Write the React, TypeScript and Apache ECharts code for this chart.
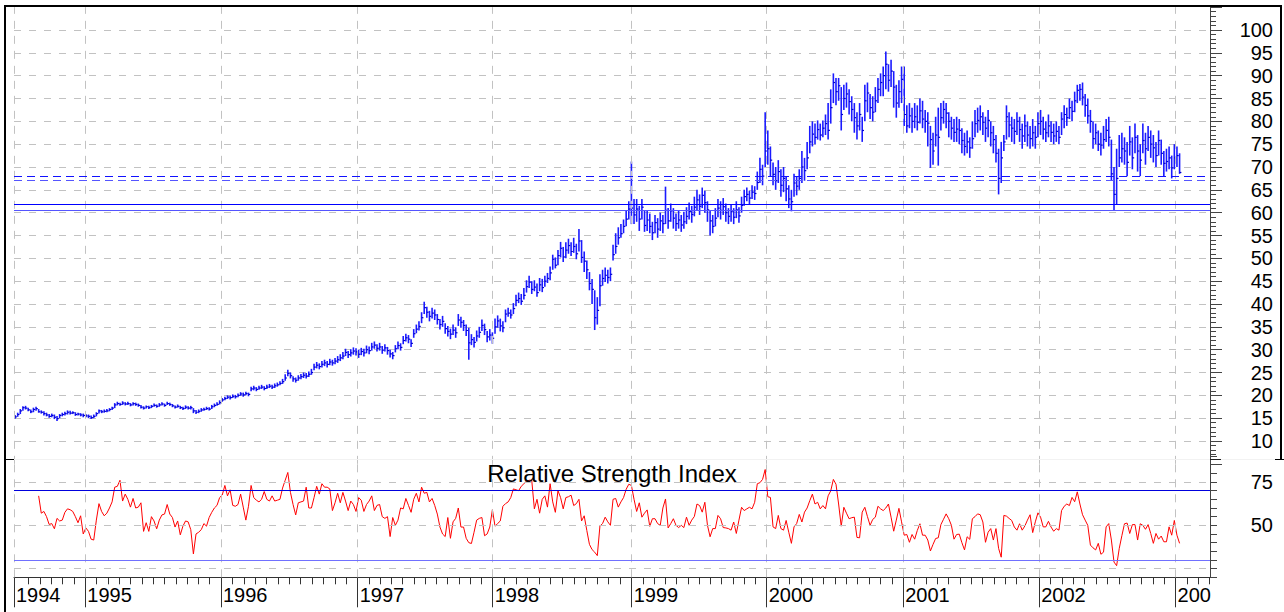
import React, { useEffect, useRef } from 'react';
import * as echarts from 'echarts';

// ---------- DATA ----------
// x positions of the year boundaries, in weeks from the first bar (bar 0 = first week shown)
const yearLabels = ['1994', '1995', '1996', '1997', '1998', '1999', '2000', '2001', '2002', '2003'];
const yearTickWeeks = [-0.4, 26.78, 78.52, 130.63, 182.1, 235.1, 286.56, 338.64, 390.49, 442.49];

// weekly bars: [high, low, close]
const bars1994 = [[15.7,14.9,15.3],[16.2,15.3,15.8],[17.0,15.9,16.6],[17.6,16.6,17.3],[17.7,16.9,17.2],[17.3,16.5,16.8],[16.9,16.1,16.4],[17.3,16.3,16.9],[17.5,16.6,17.1],[17.0,16.2,16.4],[16.7,16.0,16.3],[16.5,15.6,16.0],[16.2,15.4,15.7],[15.9,15.1,15.4],[16.0,15.2,15.6],[15.8,14.8,15.2],[15.5,14.4,14.9],[15.9,15.0,15.6],[16.2,15.4,15.8],[16.4,15.6,16.0],[16.7,15.8,16.3],[16.6,15.8,16.1],[16.5,15.9,16.2],[16.3,15.5,15.8],[16.2,15.6,15.9],[16.1,15.4,15.7],[16.0,15.2,15.6]];
const bars1995 = [[15.9,15.2,15.5],[15.8,15.0,15.4],[15.6,14.8,15.1],[15.8,15.0,15.4],[16.3,15.4,16.0],[16.9,16.0,16.6],[16.8,16.1,16.4],[16.9,16.2,16.5],[17.0,16.3,16.6],[17.2,16.5,16.9],[17.5,16.8,17.2],[18.3,17.2,17.9],[18.6,17.8,18.2],[18.4,17.7,18.0],[18.7,17.9,18.3],[18.5,17.8,18.1],[18.6,17.9,18.2],[18.3,17.6,17.9],[18.5,17.8,18.2],[18.4,17.7,18.0],[18.2,17.5,17.8],[17.9,17.1,17.4],[17.6,16.9,17.2],[17.8,17.1,17.5],[17.7,17.0,17.3],[17.9,17.2,17.6],[18.2,17.5,17.8],[18.0,17.3,17.6],[18.3,17.5,17.9],[18.5,17.8,18.1],[18.2,17.5,17.8],[18.6,17.9,18.2],[18.4,17.7,18.0],[18.1,17.4,17.7],[17.8,17.1,17.4],[18.0,17.3,17.6],[17.7,17.0,17.3],[17.5,16.8,17.1],[17.8,17.0,17.4],[17.6,16.9,17.2],[17.7,16.9,17.3],[17.2,16.1,16.6],[16.8,15.9,16.3],[16.9,16.1,16.5],[17.2,16.4,16.8],[17.3,16.6,16.9],[17.5,16.8,17.1],[17.4,16.7,17.0],[17.9,17.0,17.5],[18.2,17.4,17.8],[18.5,17.7,18.0],[18.9,18.0,18.4]];
const bars1996 = [[19.4,18.6,19.0],[19.7,18.9,19.3],[20.0,19.2,19.6],[19.9,19.1,19.5],[20.2,19.4,19.8],[20.1,19.3,19.7],[20.4,19.6,20.0],[20.7,19.9,20.3],[20.6,19.7,20.1],[20.8,20.0,20.4],[20.6,19.8,20.2],[21.9,20.9,21.4],[22.1,21.1,21.6],[21.8,20.9,21.3],[22.1,21.2,21.6],[22.3,21.4,21.8],[22.0,21.1,21.5],[22.3,21.4,21.8],[22.5,21.6,22.0],[22.3,21.4,21.8],[22.6,21.6,22.1],[22.8,21.9,22.3],[23.1,22.2,22.6],[23.6,22.5,23.0],[24.6,23.2,23.8],[25.6,24.2,24.8],[25.0,23.7,24.3],[24.2,23.0,23.6],[23.9,22.8,23.3],[24.4,23.2,23.8],[24.7,23.5,24.1],[25.0,23.8,24.4],[24.9,23.7,24.2],[25.2,24.0,24.6],[25.8,24.5,25.0],[26.9,25.5,26.2],[27.3,25.9,26.6],[27.0,25.7,26.3],[27.5,26.1,26.8],[27.8,26.4,27.1],[27.5,26.1,26.8],[28.0,26.6,27.3],[27.8,26.5,27.1],[28.2,26.8,27.5],[28.6,27.1,27.8],[29.0,27.5,28.2],[29.5,27.9,28.6],[30.2,28.6,29.4],[29.7,28.2,28.9],[30.1,28.5,29.3],[30.5,28.9,29.7],[30.3,28.7,29.5]];
const bars1997 = [[30.0,28.2,29.0],[30.4,28.8,29.6],[30.2,28.5,29.3],[30.9,29.2,30.0],[30.7,29.0,29.8],[31.5,29.8,30.6],[31.8,30.2,31.0],[31.2,29.6,30.3],[31.5,29.8,30.6],[30.8,29.1,29.9],[31.2,29.6,30.4],[30.6,28.9,29.8],[30.0,28.3,29.1],[29.5,27.9,28.7],[31.0,29.4,30.2],[31.8,30.1,30.9],[31.4,29.8,30.5],[33.0,31.2,32.0],[33.5,31.8,32.6],[33.2,31.4,32.3],[32.3,30.6,31.4],[34.5,32.6,33.5],[35.5,33.6,34.5],[36.2,34.2,35.1],[38.2,35.8,37.0],[40.5,37.8,39.2],[39.4,37.0,38.2],[38.5,36.2,37.3],[39.2,36.8,38.0],[38.8,36.5,37.6],[37.8,35.5,36.6],[36.7,34.4,35.5],[37.4,35.0,36.2],[35.8,33.5,34.6],[35.2,32.9,34.0],[34.6,32.3,33.4],[35.5,33.2,34.3],[34.9,32.6,33.7],[37.8,35.2,36.5],[37.2,34.8,36.0],[36.5,34.1,35.3],[35.5,33.0,34.2],[34.8,27.8,31.5],[33.4,31.0,32.2],[32.8,30.5,31.6],[34.2,31.8,33.0],[35.0,32.6,33.8],[36.6,34.1,35.3],[35.7,33.2,34.4],[34.1,31.6,32.8],[34.5,32.0,33.2],[33.8,31.3,32.5]];
const bars1998 = [[36.8,33.5,35.0],[37.5,34.8,36.3],[36.8,34.0,35.2],[36.2,33.8,34.8],[38.8,36.0,37.8],[39.2,37.2,38.0],[38.8,36.8,37.6],[40.2,37.8,39.0],[42.0,39.5,40.8],[42.5,40.2,41.2],[42.2,39.8,40.6],[43.5,41.0,41.9],[45.2,42.5,43.8],[46.2,43.5,44.8],[45.0,42.2,43.2],[45.2,42.8,43.7],[44.5,41.6,42.5],[45.7,42.8,44.2],[45.5,42.6,43.6],[46.2,43.8,45.0],[46.8,44.6,45.6],[48.2,45.2,46.8],[50.8,47.5,49.8],[50.2,47.8,48.5],[51.8,48.5,50.6],[53.6,50.2,52.2],[52.5,49.2,50.3],[53.5,50.0,51.8],[54.3,51.0,52.8],[53.5,50.5,51.5],[54.5,51.2,52.6],[53.2,49.8,51.0],[56.4,51.5,53.8],[54.0,49.0,50.2],[51.5,47.0,49.4],[49.5,45.5,47.5],[47.0,43.0,44.5],[45.5,40.0,43.2],[43.0,34.3,37.0],[41.5,35.5,38.6],[46.5,39.5,44.0],[47.5,44.0,45.6],[48.0,44.8,46.3],[47.5,44.5,45.8],[48.0,45.0,46.5],[53.0,49.5,50.8],[55.5,51.0,52.6],[56.8,53.0,54.5],[57.5,54.5,55.4],[58.5,55.5,57.0],[60.5,57.0,58.6],[62.5,58.5,60.8]];
const bars1999 = [[71.2,57.5,61.0],[63.0,57.5,59.5],[63.0,58.0,60.8],[61.5,56.0,58.6],[63.0,58.5,61.2],[60.5,55.8,57.2],[60.5,56.0,58.4],[59.8,55.5,57.0],[58.0,54.0,55.6],[59.5,55.5,57.8],[58.8,54.5,56.4],[60.0,56.0,58.2],[59.5,55.5,57.6],[65.7,57.5,60.5],[61.0,56.5,58.2],[62.0,58.0,60.4],[61.0,56.5,58.8],[59.8,56.0,57.6],[60.5,56.5,58.4],[59.5,55.8,57.3],[60.2,56.5,58.0],[61.2,57.5,59.2],[62.2,58.5,60.3],[61.5,57.8,59.6],[63.5,59.2,61.2],[65.0,60.5,62.8],[64.0,59.5,61.4],[65.5,61.0,63.8],[64.8,60.0,62.2],[62.5,58.0,60.6],[60.5,55.0,58.2],[59.5,55.5,57.0],[61.0,57.0,58.8],[63.0,59.0,61.0],[62.5,58.5,60.5],[63.2,59.5,61.3],[62.0,58.0,60.0],[61.0,57.5,59.2],[61.8,58.0,60.2],[61.0,57.5,59.0],[62.5,58.8,60.6],[61.2,57.8,59.3],[63.5,60.0,61.6],[65.0,61.5,63.5],[65.5,62.5,64.0],[64.8,61.8,63.2],[66.0,63.0,64.5],[65.8,62.8,64.2],[69.0,65.0,66.6],[72.0,66.5,69.5],[70.5,66.0,68.0],[82.0,70.0,73.5]];
const bars2000 = [[78.0,70.5,74.0],[74.5,68.0,71.5],[71.0,66.0,68.4],[70.0,65.0,67.0],[71.5,66.5,69.0],[69.5,63.5,66.0],[70.0,64.5,67.5],[68.0,62.5,65.2],[66.0,61.0,63.0],[65.0,60.3,62.4],[68.5,63.5,66.5],[68.0,63.8,65.8],[69.5,65.0,67.5],[73.5,66.5,70.0],[72.0,67.0,69.2],[75.5,69.5,72.0],[79.0,73.0,75.5],[80.0,74.5,77.2],[79.5,75.0,76.5],[80.2,76.0,78.2],[79.5,75.8,77.0],[80.2,76.5,78.5],[81.5,77.0,79.5],[84.0,76.0,78.0],[87.0,79.5,83.0],[90.5,84.0,88.5],[89.5,83.5,86.5],[89.5,84.5,87.8],[87.5,78.0,81.5],[88.0,82.5,85.0],[88.5,83.0,86.0],[87.0,81.5,84.3],[85.5,80.0,82.6],[84.0,77.5,80.8],[82.0,76.0,79.0],[84.0,78.0,81.5],[81.0,75.5,78.0],[88.0,80.0,84.5],[88.5,82.0,86.2],[86.0,80.5,83.0],[85.5,80.0,82.0],[87.5,82.0,84.5],[89.5,84.0,87.0],[90.5,85.5,88.5],[92.0,85.5,90.0],[95.3,87.0,92.5],[92.5,86.5,89.0],[93.5,87.5,91.0],[91.0,83.0,87.5],[88.0,80.8,84.0],[89.0,83.0,86.5],[92.0,84.0,89.2]];
const bars2001 = [[92.0,79.0,81.5],[83.5,77.5,79.0],[84.0,78.5,81.2],[83.0,77.5,80.0],[84.0,78.5,81.0],[83.5,78.0,79.8],[85.0,79.5,82.3],[84.5,78.5,80.5],[82.5,77.5,80.0],[82.0,74.5,79.6],[79.0,69.8,76.0],[77.5,70.5,73.5],[81.0,74.5,77.0],[83.0,70.3,76.5],[84.0,78.0,80.8],[84.5,79.5,82.6],[84.0,78.5,81.8],[82.0,76.5,80.0],[81.0,76.0,78.5],[80.5,75.5,77.6],[81.0,75.5,78.3],[80.5,75.0,78.0],[78.5,73.0,75.8],[77.5,72.5,74.5],[78.0,73.0,75.5],[76.5,72.0,74.2],[80.0,74.0,76.2],[82.5,76.5,79.5],[83.0,77.5,80.2],[83.5,78.0,81.0],[82.0,77.0,79.8],[81.0,75.5,78.5],[82.5,76.5,80.2],[80.0,74.5,77.5],[79.0,73.0,76.0],[77.0,71.0,73.0],[74.0,64.0,67.5],[75.5,66.5,72.0],[77.0,73.5,75.5],[83.5,76.0,81.0],[82.0,76.5,79.2],[81.0,75.5,78.5],[80.5,75.0,77.8],[82.0,77.0,80.0],[81.0,75.5,78.2],[79.5,74.0,76.8],[81.5,75.5,79.0],[80.0,74.5,77.0],[79.0,74.0,76.2],[80.5,74.5,77.5],[79.0,74.0,76.5],[82.0,76.5,79.5]];
const bars2002 = [[82.5,77.0,80.0],[81.0,76.0,78.3],[80.0,75.5,77.5],[81.5,76.5,79.0],[80.0,75.5,77.6],[79.5,75.0,76.8],[80.0,75.5,77.8],[79.0,75.0,76.5],[82.0,77.0,80.5],[83.5,78.5,81.5],[83.0,79.0,80.8],[85.0,80.5,83.0],[84.5,80.0,82.2],[86.5,82.0,84.5],[88.0,84.0,86.8],[88.2,84.5,87.0],[88.5,83.5,85.3],[86.0,81.0,83.5],[85.0,79.5,81.2],[82.5,77.5,80.0],[80.0,74.0,76.2],[79.5,75.0,77.5],[78.0,73.5,75.0],[77.5,72.5,74.8],[79.0,74.0,76.0],[80.5,75.5,78.0],[81.0,74.5,76.5],[76.0,67.0,68.5],[70.0,60.5,64.0],[74.0,61.8,67.5],[77.0,70.0,72.0],[77.5,71.0,74.0],[76.5,70.5,73.5],[75.5,68.0,71.0],[79.0,72.5,75.5],[76.5,69.5,72.0],[79.5,73.0,76.5],[77.0,69.0,73.5],[75.0,68.0,71.5],[79.5,73.0,75.8],[77.5,70.5,74.0],[79.0,73.5,76.5],[78.0,72.0,75.0],[77.0,71.0,74.2],[75.5,70.0,72.5],[78.0,72.5,75.8],[76.0,70.5,73.0],[73.5,68.0,70.8],[74.0,69.0,71.2],[74.5,69.5,72.0],[72.5,67.5,69.8],[75.0,69.5,72.0]];
const bars2003 = [[74.5,70.0,72.5],[73.0,68.5,68.8]];

// weekly RSI values, starting at week rsiFirstWeek
const rsiFirstWeek = 9;
const rsiValues = [
  67,57,58,55,50.5,51,48,54,52.5,53,57.5,59.5,59,58,55,51.5,55.5,45,48.5,46.5,
  42,41.5,53,62.5,58,55.5,57,60,63.5,72,72.5,76,64,68,65,60.5,65.5,60,60.5,63,
  46.5,51.5,46.5,55,52.5,48,53,56,56.5,62,56.5,54.5,49,52.5,44.5,49.5,52.5,52,47.5,33.5,
  45,46,47.5,51,49.5,54.5,57.5,60,61.5,66,67.5,73,67,70.5,61.5,61,62,68,60.5,53,
  61,73,66,64.5,63.5,65,69.5,65,64,67,64,64.5,65,71.5,76,80.5,69,62,56,63,
  63.5,64,72,60,60,66,72.5,68,74,72,72,71,58.5,63,68.5,63,69,64,58.5,64,
  62,58,66,64.5,58,62,64,67,58.5,61.5,62,55,54,55,43.5,54.5,50,53,60,59.5,
  65.5,61.5,57.5,65,68.5,63.5,72,68.5,69,63.5,65.5,61.5,56.5,49,45,43.5,54.5,42.5,52,54,
  60,49,49,42.5,40,39.5,46,53,54,54.5,44,45,49,59,49.5,51,52.5,61,62.5,63.5,
  66,71,70.5,70,72.5,74,75.5,76,76,59.5,65,57,65,67,60.5,74,63.5,57.5,70,66,
  59.5,66,66.5,67.4,61.4,62.5,65,52.5,55.5,47,39,36,34.5,32.5,49.6,51,54.7,52,50,65,
  65.5,60.5,63.5,66,70.8,73.7,73,65,58,63,54.7,57,58.9,49.4,53.8,53.8,51,50,60,65.2,
  48.5,51,53.8,50,48.7,50,48.7,54.7,50,53,55.1,62.3,61.4,57.6,63.3,50,43.4,48.1,48.1,55.7,
  53.8,48.7,48.5,48.1,47.2,51.9,45.3,53,60.4,58.5,59.5,60.4,59.5,63.3,74,74.6,76.5,82.2,66.5,66.1,
  49.1,48.1,55.7,48.1,47.2,52.8,46,39.6,49.1,51,56.3,51.9,57.6,60,64.2,68,62.3,63.3,59.5,61.4,
  59.5,67,69.9,76.5,73.7,62.3,49.5,60.4,57,53.8,54.4,54.7,43,42.8,57.6,60.4,55,50,53.4,54.7,
  61,59.5,58.5,60,62.3,54.7,46.6,53,59.8,52,44.3,44.7,40.2,44.7,42,47,50.9,44.3,44.3,41.5,
  35.2,39,42.4,42.8,50.4,53.5,56.6,53.8,50,42,44.7,44.9,40,35.8,43.4,41.9,53.8,55,56.6,56.1,
  51.9,40.2,46,48.1,41.5,48.1,36.7,31.6,55.7,55.3,54,52.8,49,47.2,50.9,47.2,49.6,53,56.1,45.8,
  52,57.2,54.7,49.1,49.1,52.3,49,46.6,48.1,47.2,58.5,61,62.3,61.4,66.1,63.6,69.3,62.3,56.1,53,
  50,38.6,37,35.8,39.6,33.3,34.5,49.1,51,41.5,28.8,26.7,36.7,44,50.9,51.3,45.3,50.4,50.4,41.5,
  50.9,50,47.7,50.4,45.3,39.6,45.3,42,43.8,40.5,40.5,49.1,44.3,52.8,44.3,39.6,
];

// horizontal level lines in the price panel
const solidLevels = [61.8, 60.6];
const dashedLevels = [68.0, 67.1];
// RSI reference levels
const rsiUpperBand = 70;
const rsiLowerBand = 30;
const rsiGridLevels = [25, 50, 75];
const rsiLabelValues = [50, 75];

// ---------- CHART ----------
const FONT = "'Liberation Sans', Arial, Helvetica, sans-serif";
const X_MIN = -0.4;
const X_MAX = 455.6;

const bars = [...bars1994, ...bars1995, ...bars1996, ...bars1997, ...bars1998, ...bars1999, ...bars2000, ...bars2001, ...bars2002, ...bars2003];

function buildMonthTicks(): number[] {
  const out: number[] = [];
  const firstSpan = yearTickWeeks[2] - yearTickWeeks[1];
  for (let k = 1; k <= 5; k++) out.push(yearTickWeeks[1] - (k * firstSpan) / 12);
  for (let y = 1; y < yearTickWeeks.length - 1; y++) {
    const a = yearTickWeeks[y];
    const b = yearTickWeeks[y + 1];
    for (let k = 1; k < 12; k++) out.push(a + (k * (b - a)) / 12);
  }
  const n = yearTickWeeks.length;
  const lastSpan = yearTickWeeks[n - 1] - yearTickWeeks[n - 2];
  for (let k = 1; k <= 3; k++) {
    const v = yearTickWeeks[n - 1] + (k * lastSpan) / 12;
    if (v <= X_MAX) out.push(v);
  }
  return out.sort((a, b) => a - b);
}

function yearLabelFor(v: number): string {
  let best = 0;
  for (let k = 1; k < yearTickWeeks.length; k++) {
    if (Math.abs(yearTickWeeks[k] - v) < Math.abs(yearTickWeeks[best] - v)) best = k;
  }
  return yearLabels[best];
}

export default function App() {
  const ref = useRef<HTMLDivElement>(null);

  useEffect(() => {
    if (!ref.current) return;
    const chart = echarts.init(ref.current, null, { renderer: 'svg' });
    const monthTicks = buildMonthTicks();

    const yearLines = yearTickWeeks.map((w) => ({
      xAxis: w,
      lineStyle: { color: '#c2c2c2', width: 1, type: [8, 7], opacity: 1 },
    }));

    const priceMarks = [
      ...yearLines,
      ...solidLevels.map((v, i) => ({
        yAxis: v,
        lineStyle: { color: i === 0 ? '#0000ff' : '#5555ff', width: 1, type: 'solid', opacity: 1 },
      })),
      ...dashedLevels.map((v, i) => ({
        yAxis: v,
        lineStyle: { color: i === 0 ? '#1111ff' : '#5555ff', width: 1, type: [8, 5], opacity: 1 },
      })),
    ];

    const rsiMarks = [
      ...yearLines,
      ...rsiGridLevels.map((v) => ({
        yAxis: v,
        lineStyle: { color: '#c2c2c2', width: 1, type: [7, 8], opacity: 1 },
      })),
      { yAxis: rsiUpperBand, lineStyle: { color: '#0000dd', width: 1, type: 'solid', opacity: 1 } },
      { yAxis: rsiLowerBand, lineStyle: { color: '#7070ff', width: 1, type: 'solid', opacity: 1 } },
    ];

    const option: any = {
      animation: false,
      backgroundColor: '#ffffff',
      grid: [
        { left: 14, right: 74, top: 7.17, height: 456.67 },
        { left: 14, right: 74, top: 456, height: 121.3 },
      ],
      xAxis: [
        { gridIndex: 0, type: 'value', min: X_MIN, max: X_MAX, show: false },
        {
          gridIndex: 1,
          type: 'value',
          min: X_MIN,
          max: X_MAX,
          position: 'bottom',
          axisLine: { show: true, onZero: false, lineStyle: { color: '#333', width: 1 } },
          axisTick: { show: true, customValues: monthTicks, length: 7, lineStyle: { color: '#333' } },
          axisLabel: { show: false },
          splitLine: { show: false },
        },
        {
          gridIndex: 1,
          type: 'value',
          min: X_MIN,
          max: X_MAX,
          position: 'bottom',
          axisLine: { show: false, onZero: false },
          axisTick: { show: true, customValues: yearTickWeeks, length: 30, lineStyle: { color: '#333' } },
          axisLabel: {
            show: true,
            customValues: yearTickWeeks,
            formatter: (v: number) => yearLabelFor(v),
            align: 'left',
            margin: 8,
            padding: [0, 0, 0, 2],
            fontSize: 20,
            color: '#000',
            fontFamily: FONT,
          },
          splitLine: { show: false },
        },
      ],
      yAxis: [
        {
          gridIndex: 0,
          type: 'value',
          position: 'right',
          min: 5,
          max: 105,
          interval: 5,
          axisLine: { show: true, onZero: false, lineStyle: { color: '#444' } },
          axisTick: { show: true, length: 12, lineStyle: { color: '#444' } },
          minorTick: { show: true, splitNumber: 5, length: 6, lineStyle: { color: '#444' } },
          axisLabel: {
            showMinLabel: false,
            showMaxLabel: false,
            fontSize: 20,
            color: '#000',
            fontFamily: FONT,
            align: 'right',
            margin: 63,
          },
          splitLine: {
            show: true,
            showMinLine: false,
            showMaxLine: false,
            lineStyle: { color: '#c2c2c2', type: [7, 8], width: 1 },
          },
        },
        {
          gridIndex: 1,
          type: 'value',
          position: 'right',
          min: 20,
          max: 90,
          interval: 5,
          axisLine: { show: true, onZero: false, lineStyle: { color: '#444' } },
          axisTick: { show: true, length: 7, lineStyle: { color: '#444' } },
          axisLabel: {
            formatter: (v: number) => (rsiLabelValues.indexOf(v) >= 0 ? String(v) : ''),
            fontSize: 20,
            color: '#000',
            fontFamily: FONT,
            align: 'right',
            margin: 63,
          },
          splitLine: { show: false },
        },
      ],
      series: [
        {
          name: 'guides',
          type: 'line',
          xAxisIndex: 0,
          yAxisIndex: 0,
          data: bars.map((b, i) => [i, b[2]]),
          showSymbol: false,
          silent: true,
          lineStyle: { opacity: 0 },
          z: 1,
          markLine: {
            silent: true,
            symbol: ['none', 'none'],
            label: { show: false },
            data: priceMarks,
          },
        },
        {
          name: 'price',
          type: 'custom',
          xAxisIndex: 0,
          yAxisIndex: 0,
          data: bars.map((b, i) => [i, b[0], b[1], b[2]]),
          encode: { x: 0, y: [1, 2, 3] },
          z: 3,
          renderItem: (_params: any, api: any) => {
            const x = api.value(0);
            const top = api.coord([x, api.value(1)]);
            const bot = api.coord([x, api.value(2)]);
            const cl = api.coord([x, api.value(3)]);
            return {
              type: 'group',
              children: [
                {
                  type: 'line',
                  shape: { x1: top[0], y1: top[1], x2: bot[0], y2: bot[1] },
                  style: { stroke: '#1a1aff', lineWidth: 1.6 },
                },
                {
                  type: 'line',
                  shape: { x1: cl[0], y1: cl[1], x2: cl[0] + 1.8, y2: cl[1] },
                  style: { stroke: '#0000c8', lineWidth: 1.2 },
                },
              ],
            };
          },
        },
        {
          name: 'rsiGuides',
          type: 'line',
          xAxisIndex: 1,
          yAxisIndex: 1,
          data: rsiValues.map((v, k) => [k + rsiFirstWeek, v]),
          showSymbol: false,
          silent: true,
          lineStyle: { opacity: 0 },
          z: 1,
          markLine: {
            silent: true,
            symbol: ['none', 'none'],
            label: { show: false },
            data: rsiMarks,
          },
        },
        {
          name: 'RSI',
          type: 'line',
          xAxisIndex: 1,
          yAxisIndex: 1,
          data: rsiValues.map((v, k) => [k + rsiFirstWeek, v]),
          showSymbol: false,
          lineStyle: { color: '#ff0000', width: 1 },
          itemStyle: { color: '#ff0000' },
          z: 4,
        },
      ],
      graphic: [
        { type: 'line', z: 60, shape: { x1: 4, y1: 6, x2: 1282, y2: 6 }, style: { stroke: '#000', lineWidth: 2 } },
        { type: 'line', z: 60, shape: { x1: 5, y1: 5, x2: 5, y2: 612 }, style: { stroke: '#000', lineWidth: 2 } },
        { type: 'line', z: 60, shape: { x1: 1281, y1: 5, x2: 1281, y2: 459 }, style: { stroke: '#000', lineWidth: 2 } },
        { type: 'line', z: 60, shape: { x1: 14, y1: 459.5, x2: 1284, y2: 459.5 }, style: { stroke: '#f2f2f2', lineWidth: 1 } },
        { type: 'line', z: 61, shape: { x1: 5, y1: 459.5, x2: 14, y2: 459.5 }, style: { stroke: '#000', lineWidth: 1 } },
        { type: 'line', z: 61, shape: { x1: 1210, y1: 459.5, x2: 1221, y2: 459.5 }, style: { stroke: '#222', lineWidth: 1 } },
        { type: 'line', z: 61, shape: { x1: 1275, y1: 459.5, x2: 1284, y2: 459.5 }, style: { stroke: '#000', lineWidth: 1 } },
        { type: 'rect', z: 70, shape: { x: 1211, y: 579, width: 73, height: 33 }, style: { fill: '#ffffff' } },
        {
          type: 'text',
          z: 65,
          x: 612,
          y: 473,
          style: {
            text: 'Relative Strength Index',
            font: `24px ${FONT}`,
            fill: '#000',
            textAlign: 'center',
            textVerticalAlign: 'middle',
          },
        },
      ],
    };

    chart.setOption(option);
    return () => chart.dispose();
  }, []);

  return (
    <div
      ref={ref}
      style={{ position: 'fixed', left: 0, top: 0, width: 1284, height: 612, background: '#fff' }}
    />
  );
}
